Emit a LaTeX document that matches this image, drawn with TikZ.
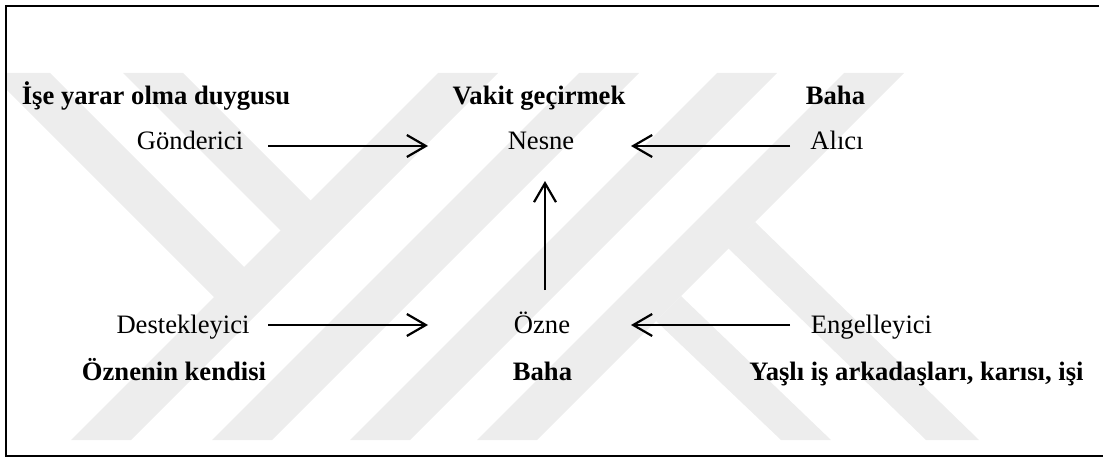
\documentclass[tikz,border=0pt]{standalone}
\usepackage{fontspec}
\setmainfont{Liberation Serif}
\usetikzlibrary{arrows.meta}
\begin{document}
\begin{tikzpicture}[x=1pt,y=-1pt,
  lbl/.style={anchor=base,inner sep=0pt,font=\fontsize{26.6}{32}\selectfont},
  blbl/.style={anchor=base,inner sep=0pt,font=\fontsize{26.6}{32}\selectfont\bfseries},
  arr/.style={line width=2.2pt,-{Straight Barb[length=19pt,width=22pt]}},
  wm/.style={fill=black!7,draw=none},
  frame/.style={line width=2.4pt}]
\useasboundingbox (0,0) rectangle (1103,460);
% watermark
\begin{scope}
\clip (6,6) rectangle (1103,456);
\fill[wm] (71,440) -- (131,440) -- (498,73) -- (438,73) -- cycle;
\fill[wm] (212,440) -- (272,440) -- (639,73) -- (579,73) -- cycle;
\fill[wm] (350,440) -- (410,440) -- (777,73) -- (717,73) -- cycle;
\fill[wm] (477,440) -- (537,440) -- (904,73) -- (844,73) -- cycle;
\fill[wm] (-10,73) -- (50,73) -- (247,270) -- (217,300) -- cycle;
\fill[wm] (123,73) -- (183,73) -- (313,203) -- (283,233) -- cycle;
\fill[wm] (656,321) -- (681,296) -- (831,440) -- (781,440) -- cycle;
\fill[wm] (728,248) -- (755,222) -- (979,440) -- (926,440) -- cycle;
\end{scope}
% frame
\draw[frame] (1099,6) -- (6,6) -- (6,456) -- (1103,456);
% texts
\node[blbl] (t1) at (156,104) {İşe yarar olma duygusu};
\node[blbl] (t2) at (539,104) {Vakit geçirmek};
\node[blbl] (t3) at (835.5,104) {Baha};
\node[lbl] (gon) at (190,149.5) {Gönderici};
\node[lbl] (nes) at (541,149.5) {Nesne};
\node[lbl] (ali) at (837,149.5) {Alıcı};
\node[lbl] (des) at (183,333) {Destekleyici};
\node[lbl] (ozn) at (542,333) {Özne};
\node[lbl] (eng) at (871.5,333) {Engelleyici};
\node[blbl] (b1) at (174,380) {Öznenin kendisi};
\node[blbl] (b2) at (542.5,380) {Baha};
\node[blbl] (b3) at (916.5,380) {Yaşlı iş arkadaşları, karısı, işi};
% arrow ends
\coordinate (gonR) at (268,146);
\coordinate (nesL) at (428,146);
\coordinate (aliL) at (790,146);
\coordinate (nesR) at (631,146);
\coordinate (desR) at (268,325);
\coordinate (oznL) at (428,325);
\coordinate (engL) at (790,325);
\coordinate (oznR) at (631,325);
\coordinate (oznT) at (545,290);
\coordinate (nesB) at (545,181);
\draw[arr] (gonR) -- (nesL);
\draw[arr] (aliL) -- (nesR);
\draw[arr] (desR) -- (oznL);
\draw[arr] (engL) -- (oznR);
\draw[arr] (oznT) -- (nesB);
\end{tikzpicture}
\end{document}
